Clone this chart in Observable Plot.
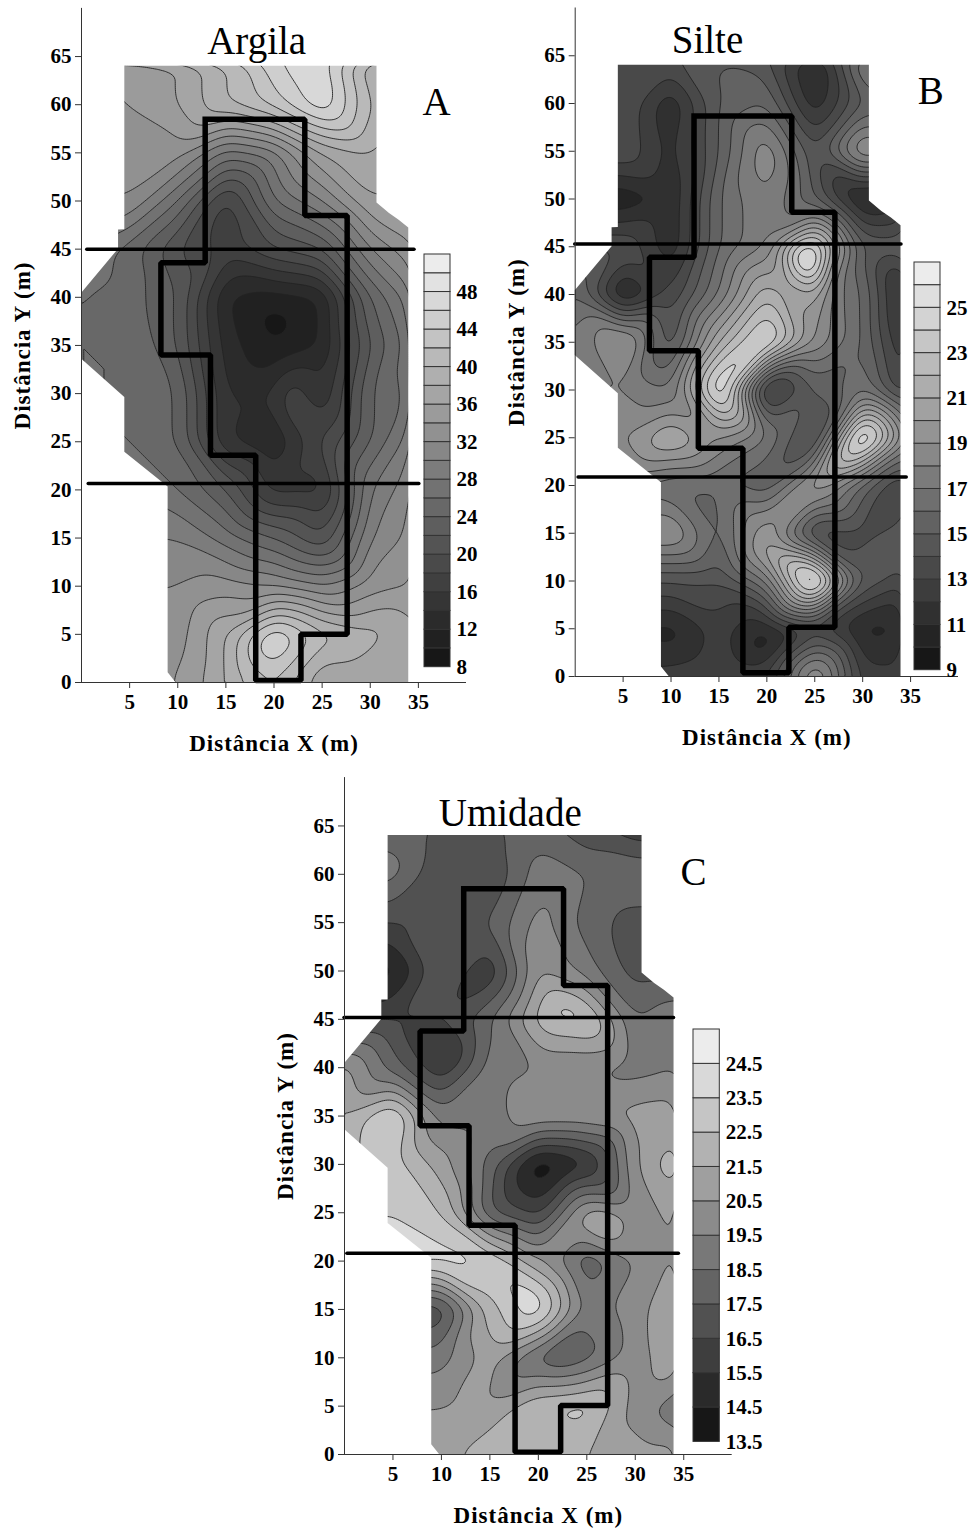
<!DOCTYPE html>
<html><head><meta charset="utf-8">
<script src="https://cdn.jsdelivr.net/npm/d3@7"></script>
<script src="https://cdn.jsdelivr.net/npm/@observablehq/plot@0.6"></script>
<style>
html,body{margin:0;padding:0;background:#fff}
#page{position:relative;width:970px;height:1530px;overflow:hidden;background:#fff}
#page svg{position:absolute;background:transparent;max-width:none}
g[aria-label$="axis label"] text{font-size:23px;letter-spacing:1px}
</style></head><body><div id="page"></div>
<script>
const xCols=[0,5,10,15,20,25,30,35];
const yRows=[65,60,55,50,45,40,35,30,25,20,15,10,5,0];
const argila=[
[34,34,36,40,46,47,38,36],
[34,34,36,40,43,48,40,36],
[33,33,33,27,29,36,38,36],
[32,32,26,17,26,30,36,36],
[28,25,20,17,20,22,30,34],
[26,25,22,12,11,12,24,30],
[26,26,22,13,10,12,22,28],
[26,26,24,14,14,14,24,27],
[26,26,24,14,12,18,24,30],
[28,28,26,22,15,15,28,32],
[30,30,30,27,24,20,30,33],
[32,32,32,33,32,30,33,34],
[33,33,33,38,46,41,39,36],
[33,33,34,38,42,36,36,36]];
const argilaExtra=[[21.5,29.5,18],[25,62,48],[20,37.5,9],[20,4.5,47]];
const silte=[
[14,14,14,15,14,10.5,18,18],
[14,14,11,15,16,11,15,16],
[14,14,11.5,15,19,14,20,18],
[10,10,11,16,18,15,10,12],
[14,14,11,16,18,25,15,15],
[16,10,13,17,22,21,16,10],
[17,20,14,21,25,19,16,11],
[18,18,17,25,11,15,17,12],
[19,19,21.5,19,17,13,27,18],
[17,17,16,16,15,20,15.5,12],
[19,19,19.5,15.5,20,13,13.5,15],
[14,14,14,14,17,27,15,13],
[11,11,10.5,12.5,11,13,10.5,11],
[12.5,12.5,12.5,13,13,20,12.5,12.5]];
const silteExtra=[[24.5,44,28],[22,47,17],[27,47,18],[27,41,17.5],[22,41,20],[20,13.5,21],[31,50.5,10],[10,4.5,10.5],[20,3.5,10],[15,30,26]];
const umidade=[
[18,18,17,17,18,16.5,15.5,15.5],
[19,19,16.5,16.5,19,18.5,18.5,18.5],
[16.5,16.5,16.5,17.5,20,18,17,17],
[14,14,17.5,15.5,20.5,19,17,17],
[16,16.5,16.5,18.5,22,23,18.5,19.5],
[21,18,15.5,19,19.5,19.5,19,19.5],
[21.5,24,19,19,20.5,20.5,21,21],
[22,23,21,18,13.5,15,20.5,23],
[23.5,23.5,22.5,17.5,16,21,20,21],
[24,24,24,23.5,20.5,17.5,19.5,21],
[16.5,16.5,16.5,22,24.5,19,20,22],
[19,19,19,21,18,18,20,21.5],
[20.5,20.5,20.5,20.5,22.5,23,20,18.5],
[21,21,21,22.5,21.5,21.5,21,21]];
const umidadeExtra=[[22.7,46,23.2],[10.5,41,15],[22,30,14],[25.5,24.5,22.5],[19.5,16,24.5],[22,10.3,17]];
const argilaThresholds=d3.range(8,52,2);
const silteThresholds=d3.range(9,27,1);
const umidadeThresholds=d3.range(13.5,25.5,1);
const argilaLabels=d3.range(8,50,4);
const silteLabels=d3.range(9,27,2);
const umidadeLabels=d3.range(13.5,25,1);
const maskLeftY=[0,1,20.3,23.9,29.6,33.6,40.4,45,47,47.01,65];
const maskLeftX=[9.8,9,9,4.5,4.5,0,0,3.85,3.85,4.5,4.5];
const maskRightY=[0,47.2,48,48.7,49.8,65];
const maskRightX=[34,34,33,32,30.7,30.7];
const xTicks=[5,10,15,20,25,30,35];
const yTicks=d3.range(0,70,5);
const outlineA=[[12.85,58.5],[23.2,58.5],[23.2,48.5],[27.6,48.5],[27.6,5],[22.8,5],[22.8,.2],[18.1,.2],[18.1,23.6],[13.4,23.6],[13.4,34],[8.25,34],[8.25,43.6],[12.85,43.6],[12.85,58.5]];
const outlineB=[[12.4,58.7],[22.6,58.7],[22.6,48.6],[27.1,48.6],[27.1,5.15],[22.3,5.15],[22.3,.4],[17.5,.4],[17.5,23.9],[12.85,23.9],[12.85,34.1],[7.75,34.1],[7.75,43.9],[12.4,43.9],[12.4,58.7]];
const outlineC=[[12.3,58.5],[22.6,58.5],[22.6,48.5],[27.15,48.5],[27.15,5.07],[22.3,5.07],[22.3,.24],[17.6,.24],[17.6,23.7],[12.85,23.7],[12.85,34],[7.8,34],[7.8,43.8],[12.3,43.8],[12.3,58.5]];
const linesA=[[.6,34.6,45],[.75,35.1,20.66]];
const linesB=[[0,34.05,45.3],[.35,34.6,20.9]];
const linesC=[[0,34,45.2],[.3,34.5,20.8]];

const page=document.getElementById("page");
const serif='"Liberation Serif","Times New Roman",serif';
function place(el,l,t){el.style.left=l+"px";el.style.top=t+"px";page.appendChild(el)}
function points(rows,extra){
  const p=[];
  rows.forEach((r,i)=>r.forEach((v,j)=>p.push({x:xCols[j],y:yRows[i],v})));
  extra.forEach(([x,y,v])=>p.push({x,y,v}));
  return p;
}
function panel(o){
  const edgeL=maskLeftY.map((y,i)=>({y,x:maskLeftX[i]}));
  const edgeR=maskRightY.map((y,i)=>({y,x:maskRightX[i]}));
  const outline=o.outline.map(([x,y])=>({x,y}));
  const color={type:"linear",domain:[o.thresholds[0],o.thresholds[o.thresholds.length-1]],range:["#171717","#ececec"]};
  const svg=Plot.plot({
    width:o.width,height:o.height,
    marginLeft:o.ml,marginRight:o.mr,marginTop:o.mt,marginBottom:o.mb,
    x:{domain:[0,40]},y:{domain:[0,70]},color,
    style:{fontFamily:serif,fontWeight:"bold",fontSize:"21px",color:"#000",background:"transparent",overflow:"visible"},
    marks:[
      Plot.contour(points(o.rows,o.extra),{x:"x",y:"y",fill:"v",interpolate:"barycentric",blur:4,thresholds:o.thresholds,stroke:"#222",strokeWidth:.9,clip:true}),
      Plot.areaX(edgeL,{y:"y",x1:()=>-.5,x2:"x",fill:"white"}),
      Plot.areaX(edgeR,{y:"y",x1:"x",x2:()=>40.5,fill:"white"}),
      Plot.areaX([64,70.5],{y:d=>d,x1:()=>-.5,x2:()=>40.5,fill:"white"}),
      Plot.line(outline,{x:"x",y:"y",stroke:"#000",strokeWidth:5.5,strokeLinejoin:"miter",strokeLinecap:"square"}),
      Plot.ruleY(o.lines,{x1:d=>d[0],x2:d=>d[1],y:d=>d[2],stroke:"#000",strokeWidth:3.5,strokeLinecap:"round"}),
      Plot.ruleX([0],{stroke:"#333",strokeWidth:1}),
      Plot.ruleY([0],{stroke:"#333",strokeWidth:1}),
      Plot.axisX({ticks:xTicks,tickSize:6,tickPadding:6,stroke:"#333",label:"Distância X (m)",labelAnchor:"center",labelArrow:"none",labelOffset:o.xOff}),
      Plot.axisY({ticks:yTicks,tickSize:6,tickPadding:4,stroke:"#333",label:"Distância Y (m)",labelAnchor:"center",labelArrow:"none",labelOffset:o.yOff}),
      Plot.text([o.title],{x:()=>o.tx,y:()=>o.ty,text:d=>d,fontSize:39,fontWeight:"normal",lineAnchor:"bottom"}),
      Plot.text([o.letter],{x:()=>o.lx,y:()=>o.ly,text:d=>d,fontSize:39,fontWeight:"normal",lineAnchor:"bottom"})
    ]
  });
  place(svg,o.left,o.top);
  const t=o.thresholds, step=t[1]-t[0];
  const leg=Plot.plot({
    width:o.legW,height:o.legB-o.legT+16,
    marginLeft:4,marginRight:o.legW-4-o.legBox,marginTop:8,marginBottom:8,
    x:{domain:[0,1],axis:null},y:{domain:[t[0],t[t.length-1]+step]},color,
    style:{fontFamily:serif,fontWeight:"bold",fontSize:"21px",color:"#000",background:"transparent",overflow:"visible"},
    marks:[
      Plot.rect(t,{x1:()=>0,x2:()=>1,y1:d=>d,y2:d=>d+step,fill:d=>d,stroke:"#333",strokeWidth:1}),
      Plot.axisY({anchor:"right",ticks:o.labels,tickSize:0,tickPadding:6,label:null,tickFormat:o.fmt})
    ]
  });
  place(leg,o.legL-4,o.legT-8);
}
panel({title:"Argila",letter:"A",rows:argila,extra:argilaExtra,thresholds:argilaThresholds,labels:argilaLabels,fmt:d3.format("d"),outline:outlineA,lines:linesA,
  left:0,top:0,width:470,height:770,ml:81,mr:4,mt:7.9,mb:88,tx:18.2,ty:65.3,lx:36.9,ly:58.9,xOff:68,yOff:68,
  legL:424,legT:254,legB:666.7,legBox:26,legW:60});
panel({title:"Silte",letter:"B",rows:silte,extra:silteExtra,thresholds:silteThresholds,labels:silteLabels,fmt:d3.format("d"),outline:outlineB,lines:linesB,
  left:490,top:0,width:470,height:770,ml:84.7,mr:2,mt:7.5,mb:94,tx:13.8,ty:65.3,lx:37.1,ly:60,xOff:68,yOff:68,
  legL:914,legT:262.3,legB:670,legBox:26,legW:56});
panel({title:"Umidade",letter:"C",rows:umidade,extra:umidadeExtra,thresholds:umidadeThresholds,labels:umidadeLabels,fmt:d3.format(".1f"),outline:outlineC,lines:linesC,
  left:260,top:770,width:474,height:760,ml:84,mr:2.3,mt:7.1,mb:76,tx:17.1,ty:65,lx:36,ly:58.9,xOff:68,yOff:68,
  legL:693,legT:1029.3,legB:1441.7,legBox:26.3,legW:70});
</script></body></html>
